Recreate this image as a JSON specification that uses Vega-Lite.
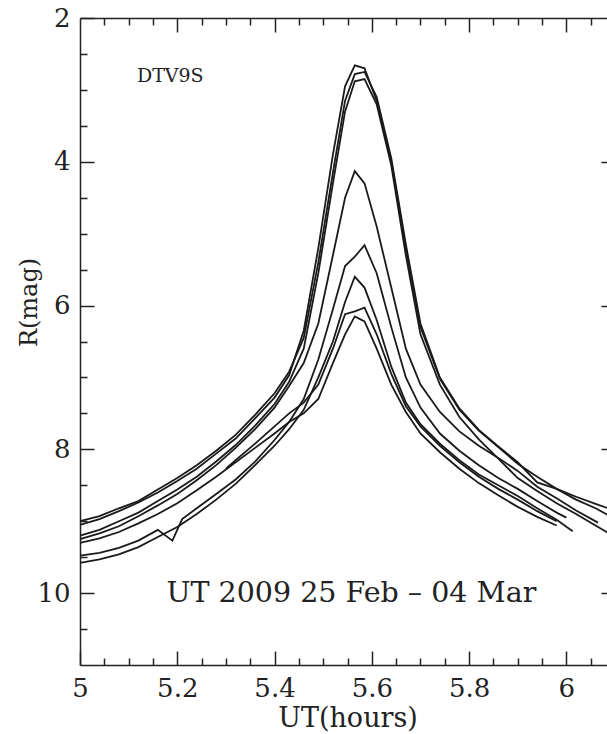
{
  "$schema": "https://vega.github.io/schema/vega-lite/v6.json",
  "autosize": {"type": "none"},
  "padding": {"left": 80, "top": 18, "right": 0, "bottom": 69},
  "width": 535,
  "height": 647,
  "background": "white",
  "config": {
    "view": {"stroke": null},
    "axis": {
      "grid": false,
      "domainColor": "#222",
      "domainWidth": 1.5,
      "tickColor": "#222",
      "tickWidth": 1.5,
      "labelFont": "DejaVu Serif",
      "labelFontSize": 26,
      "labelColor": "#222",
      "labelFlush": false,
      "labelOverlap": false,
      "titleFont": "DejaVu Serif",
      "titleFontWeight": "normal",
      "titleColor": "#222"
    }
  },
  "datasets": {
    "curves": [
      {"s":"A","x":5.00,"y":9.05},{"s":"A","x":5.04,"y":8.97},{"s":"A","x":5.08,"y":8.86},{"s":"A","x":5.12,"y":8.74},{"s":"A","x":5.16,"y":8.6},{"s":"A","x":5.20,"y":8.44},{"s":"A","x":5.24,"y":8.27},{"s":"A","x":5.28,"y":8.06},{"s":"A","x":5.32,"y":7.85},{"s":"A","x":5.36,"y":7.57},{"s":"A","x":5.40,"y":7.28},{"s":"A","x":5.43,"y":6.97},{"s":"A","x":5.46,"y":6.35},{"s":"A","x":5.49,"y":5.2},{"s":"A","x":5.52,"y":3.9},{"s":"A","x":5.545,"y":2.95},{"s":"A","x":5.565,"y":2.66},{"s":"A","x":5.585,"y":2.7},{"s":"A","x":5.61,"y":3.15},{"s":"A","x":5.64,"y":4.0},{"s":"A","x":5.67,"y":5.2},{"s":"A","x":5.70,"y":6.3},{"s":"A","x":5.74,"y":7.02},{"s":"A","x":5.78,"y":7.45},{"s":"A","x":5.82,"y":7.74},{"s":"A","x":5.86,"y":7.97},{"s":"A","x":5.90,"y":8.2},{"s":"A","x":5.94,"y":8.38},{"s":"A","x":5.98,"y":8.55},{"s":"A","x":6.02,"y":8.66},{"s":"A","x":6.06,"y":8.76},{"s":"A","x":6.09,"y":8.83},
      {"s":"B","x":5.00,"y":9.0},{"s":"B","x":5.04,"y":8.93},{"s":"B","x":5.08,"y":8.82},{"s":"B","x":5.12,"y":8.72},{"s":"B","x":5.16,"y":8.56},{"s":"B","x":5.20,"y":8.4},{"s":"B","x":5.24,"y":8.22},{"s":"B","x":5.28,"y":8.02},{"s":"B","x":5.32,"y":7.8},{"s":"B","x":5.36,"y":7.52},{"s":"B","x":5.40,"y":7.22},{"s":"B","x":5.43,"y":6.92},{"s":"B","x":5.46,"y":6.45},{"s":"B","x":5.49,"y":5.4},{"s":"B","x":5.52,"y":4.15},{"s":"B","x":5.545,"y":3.15},{"s":"B","x":5.565,"y":2.78},{"s":"B","x":5.585,"y":2.75},{"s":"B","x":5.61,"y":3.1},{"s":"B","x":5.64,"y":3.95},{"s":"B","x":5.67,"y":5.15},{"s":"B","x":5.70,"y":6.25},{"s":"B","x":5.74,"y":7.0},{"s":"B","x":5.78,"y":7.43},{"s":"B","x":5.82,"y":7.73},{"s":"B","x":5.86,"y":7.96},{"s":"B","x":5.90,"y":8.18},{"s":"B","x":5.94,"y":8.46},{"s":"B","x":5.98,"y":8.55},{"s":"B","x":6.02,"y":8.7},{"s":"B","x":6.06,"y":8.82},{"s":"B","x":6.09,"y":8.93},
      {"s":"C","x":5.00,"y":9.2},{"s":"C","x":5.04,"y":9.12},{"s":"C","x":5.08,"y":9.0},{"s":"C","x":5.12,"y":8.88},{"s":"C","x":5.16,"y":8.72},{"s":"C","x":5.20,"y":8.56},{"s":"C","x":5.24,"y":8.38},{"s":"C","x":5.28,"y":8.17},{"s":"C","x":5.32,"y":7.94},{"s":"C","x":5.36,"y":7.67},{"s":"C","x":5.40,"y":7.37},{"s":"C","x":5.43,"y":7.06},{"s":"C","x":5.46,"y":6.6},{"s":"C","x":5.49,"y":5.55},{"s":"C","x":5.52,"y":4.3},{"s":"C","x":5.545,"y":3.3},{"s":"C","x":5.565,"y":2.88},{"s":"C","x":5.585,"y":2.85},{"s":"C","x":5.61,"y":3.2},{"s":"C","x":5.64,"y":4.05},{"s":"C","x":5.67,"y":5.3},{"s":"C","x":5.70,"y":6.4},{"s":"C","x":5.74,"y":7.1},{"s":"C","x":5.78,"y":7.55},{"s":"C","x":5.82,"y":7.86},{"s":"C","x":5.86,"y":8.13},{"s":"C","x":5.90,"y":8.4},{"s":"C","x":5.94,"y":8.58},{"s":"C","x":5.98,"y":8.75},{"s":"C","x":6.02,"y":8.9},{"s":"C","x":6.06,"y":9.06},{"s":"C","x":6.09,"y":9.18},
      {"s":"D","x":5.00,"y":9.25},{"s":"D","x":5.04,"y":9.17},{"s":"D","x":5.08,"y":9.07},{"s":"D","x":5.12,"y":8.93},{"s":"D","x":5.16,"y":8.78},{"s":"D","x":5.20,"y":8.62},{"s":"D","x":5.24,"y":8.43},{"s":"D","x":5.28,"y":8.22},{"s":"D","x":5.32,"y":7.98},{"s":"D","x":5.36,"y":7.72},{"s":"D","x":5.40,"y":7.42},{"s":"D","x":5.43,"y":7.12},{"s":"D","x":5.46,"y":6.8},{"s":"D","x":5.49,"y":6.25},{"s":"D","x":5.52,"y":5.3},{"s":"D","x":5.545,"y":4.5},{"s":"D","x":5.565,"y":4.13},{"s":"D","x":5.585,"y":4.3},{"s":"D","x":5.61,"y":4.9},{"s":"D","x":5.64,"y":5.75},{"s":"D","x":5.67,"y":6.6},{"s":"D","x":5.70,"y":7.1},{"s":"D","x":5.74,"y":7.48},{"s":"D","x":5.78,"y":7.75},{"s":"D","x":5.82,"y":7.95},{"s":"D","x":5.86,"y":8.12},{"s":"D","x":5.90,"y":8.3},{"s":"D","x":5.94,"y":8.52},{"s":"D","x":5.98,"y":8.68},{"s":"D","x":6.02,"y":8.85},{"s":"D","x":6.065,"y":9.02},
      {"s":"E","x":5.00,"y":9.48},{"s":"E","x":5.04,"y":9.44},{"s":"E","x":5.08,"y":9.37},{"s":"E","x":5.12,"y":9.27},{"s":"E","x":5.16,"y":9.12},{"s":"E","x":5.19,"y":9.27},{"s":"E","x":5.21,"y":8.97},{"s":"E","x":5.24,"y":8.82},{"s":"E","x":5.28,"y":8.62},{"s":"E","x":5.32,"y":8.42},{"s":"E","x":5.36,"y":8.17},{"s":"E","x":5.40,"y":7.87},{"s":"E","x":5.43,"y":7.62},{"s":"E","x":5.46,"y":7.3},{"s":"E","x":5.49,"y":6.75},{"s":"E","x":5.52,"y":6.05},{"s":"E","x":5.545,"y":5.45},{"s":"E","x":5.565,"y":5.32},{"s":"E","x":5.585,"y":5.16},{"s":"E","x":5.61,"y":5.55},{"s":"E","x":5.64,"y":6.3},{"s":"E","x":5.67,"y":7.0},{"s":"E","x":5.70,"y":7.42},{"s":"E","x":5.74,"y":7.78},{"s":"E","x":5.78,"y":8.02},{"s":"E","x":5.82,"y":8.22},{"s":"E","x":5.86,"y":8.4},{"s":"E","x":5.90,"y":8.55},{"s":"E","x":5.94,"y":8.72},{"s":"E","x":5.98,"y":8.88},{"s":"E","x":6.00,"y":8.95},
      {"s":"F","x":5.00,"y":9.58},{"s":"F","x":5.04,"y":9.53},{"s":"F","x":5.08,"y":9.46},{"s":"F","x":5.12,"y":9.36},{"s":"F","x":5.16,"y":9.22},{"s":"F","x":5.20,"y":9.08},{"s":"F","x":5.24,"y":8.9},{"s":"F","x":5.28,"y":8.7},{"s":"F","x":5.32,"y":8.48},{"s":"F","x":5.36,"y":8.22},{"s":"F","x":5.40,"y":7.95},{"s":"F","x":5.43,"y":7.72},{"s":"F","x":5.46,"y":7.45},{"s":"F","x":5.49,"y":7.0},{"s":"F","x":5.52,"y":6.5},{"s":"F","x":5.545,"y":5.95},{"s":"F","x":5.565,"y":5.6},{"s":"F","x":5.585,"y":5.75},{"s":"F","x":5.61,"y":6.2},{"s":"F","x":5.64,"y":6.85},{"s":"F","x":5.67,"y":7.35},{"s":"F","x":5.70,"y":7.65},{"s":"F","x":5.74,"y":7.92},{"s":"F","x":5.78,"y":8.15},{"s":"F","x":5.82,"y":8.35},{"s":"F","x":5.86,"y":8.5},{"s":"F","x":5.90,"y":8.65},{"s":"F","x":5.94,"y":8.82},{"s":"F","x":5.98,"y":8.98},{"s":"F","x":6.013,"y":9.14},
      {"s":"G","x":5.30,"y":8.27},{"s":"G","x":5.32,"y":8.15},{"s":"G","x":5.36,"y":7.92},{"s":"G","x":5.40,"y":7.68},{"s":"G","x":5.43,"y":7.5},{"s":"G","x":5.46,"y":7.35},{"s":"G","x":5.49,"y":7.1},{"s":"G","x":5.52,"y":6.6},{"s":"G","x":5.545,"y":6.12},{"s":"G","x":5.565,"y":6.08},{"s":"G","x":5.585,"y":6.03},{"s":"G","x":5.61,"y":6.4},{"s":"G","x":5.64,"y":6.95},{"s":"G","x":5.67,"y":7.4},{"s":"G","x":5.70,"y":7.68},{"s":"G","x":5.74,"y":7.95},{"s":"G","x":5.78,"y":8.18},{"s":"G","x":5.82,"y":8.38},{"s":"G","x":5.86,"y":8.55},{"s":"G","x":5.90,"y":8.7},{"s":"G","x":5.94,"y":8.86},{"s":"G","x":5.98,"y":9.0},
      {"s":"H","x":5.00,"y":9.3},{"s":"H","x":5.04,"y":9.24},{"s":"H","x":5.08,"y":9.15},{"s":"H","x":5.12,"y":9.03},{"s":"H","x":5.16,"y":8.9},{"s":"H","x":5.20,"y":8.75},{"s":"H","x":5.24,"y":8.57},{"s":"H","x":5.28,"y":8.38},{"s":"H","x":5.32,"y":8.18},{"s":"H","x":5.36,"y":7.98},{"s":"H","x":5.40,"y":7.78},{"s":"H","x":5.43,"y":7.62},{"s":"H","x":5.46,"y":7.5},{"s":"H","x":5.49,"y":7.3},{"s":"H","x":5.52,"y":6.8},{"s":"H","x":5.545,"y":6.4},{"s":"H","x":5.565,"y":6.15},{"s":"H","x":5.585,"y":6.22},{"s":"H","x":5.61,"y":6.6},{"s":"H","x":5.64,"y":7.1},{"s":"H","x":5.67,"y":7.48},{"s":"H","x":5.70,"y":7.78},{"s":"H","x":5.74,"y":8.04},{"s":"H","x":5.78,"y":8.27},{"s":"H","x":5.82,"y":8.47},{"s":"H","x":5.86,"y":8.64},{"s":"H","x":5.90,"y":8.8},{"s":"H","x":5.94,"y":8.94},{"s":"H","x":5.98,"y":9.06}
    ],
    "tag": [{"x": 5.117, "y": 2.8, "label": "DTV9S"}],
    "dates": [{"x": 5.558, "y": 10.0, "label": "UT 2009 25 Feb – 04 Mar"}]
  },
  "layer": [
    {
      "data": {"name": "curves"},
      "mark": {"type": "line", "stroke": "#1a1a1a", "strokeWidth": 1.8},
      "encoding": {
        "x": {"field": "x", "type": "quantitative",
          "scale": {"domain": [5, 6.1], "nice": false, "zero": false},
          "axis": {"orient": "bottom", "values": [5, 5.2, 5.4, 5.6, 5.8, 6.0], "format": ".1~f",
            "tickSize": -14, "labelPadding": 24, "title": "UT(hours)", "titleFontSize": 27,
            "titleY": 53, "titleBaseline": "middle"}},
        "y": {"field": "y", "type": "quantitative",
          "scale": {"domain": [2, 11], "nice": false, "zero": false, "reverse": true},
          "axis": {"orient": "left", "values": [2, 4, 6, 8, 10], "format": "d",
            "tickSize": -14, "labelPadding": 24, "title": "R(mag)", "titleFontSize": 24,
            "titleX": -51, "titleY": 284, "titleAngle": -90, "titleBaseline": "middle", "titleAlign": "center"}},
        "detail": {"field": "s", "type": "nominal"}
      }
    },
    {
      "data": {"name": "tag"},
      "mark": {"type": "text", "font": "DejaVu Serif", "fontSize": 19, "align": "left", "baseline": "middle", "color": "#222"},
      "encoding": {
        "x": {"field": "x", "type": "quantitative",
          "scale": {"domain": [5, 6.1], "nice": false, "zero": false},
          "axis": {"orient": "bottom", "values": [5.05, 5.1, 5.15, 5.25, 5.3, 5.35, 5.45, 5.5, 5.55, 5.65, 5.7, 5.75, 5.85, 5.9, 5.95, 6.05],
            "tickSize": -7, "labels": false, "domain": false, "title": null}},
        "y": {"field": "y", "type": "quantitative",
          "scale": {"domain": [2, 11], "nice": false, "zero": false, "reverse": true},
          "axis": {"orient": "left", "values": [2.5, 3, 3.5, 4.5, 5, 5.5, 6.5, 7, 7.5, 8.5, 9, 9.5, 10.5],
            "tickSize": -7, "labels": false, "domain": false, "title": null}},
        "text": {"field": "label", "type": "nominal"}
      }
    },
    {
      "data": {"name": "dates"},
      "mark": {"type": "text", "font": "DejaVu Serif", "fontSize": 28.5, "align": "center", "baseline": "middle", "color": "#222"},
      "encoding": {
        "x": {"field": "x", "type": "quantitative",
          "scale": {"domain": [5, 6.1], "nice": false, "zero": false},
          "axis": {"orient": "top", "values": [5.2, 5.4, 5.6, 5.8, 6.0],
            "tickSize": -14, "labels": false, "title": null}},
        "y": {"field": "y", "type": "quantitative",
          "scale": {"domain": [2, 11], "nice": false, "zero": false, "reverse": true},
          "axis": {"orient": "right", "values": [4, 6, 8, 10],
            "tickSize": -14, "labels": false, "title": null}},
        "text": {"field": "label", "type": "nominal"}
      }
    },
    {
      "data": {"name": "tag"},
      "mark": {"type": "point", "opacity": 0},
      "encoding": {
        "x": {"field": "x", "type": "quantitative",
          "scale": {"domain": [5, 6.1], "nice": false, "zero": false},
          "axis": {"orient": "top", "values": [5.05, 5.1, 5.15, 5.25, 5.3, 5.35, 5.45, 5.5, 5.55, 5.65, 5.7, 5.75, 5.85, 5.9, 5.95, 6.05],
            "tickSize": -7, "labels": false, "domain": false, "title": null}},
        "y": {"field": "y", "type": "quantitative",
          "scale": {"domain": [2, 11], "nice": false, "zero": false, "reverse": true},
          "axis": {"orient": "right", "values": [2.5, 3, 3.5, 4.5, 5, 5.5, 6.5, 7, 7.5, 8.5, 9, 9.5, 10.5],
            "tickSize": -7, "labels": false, "domain": false, "title": null}}
      }
    }
  ],
  "resolve": {"axis": {"x": "independent", "y": "independent"}}
}
